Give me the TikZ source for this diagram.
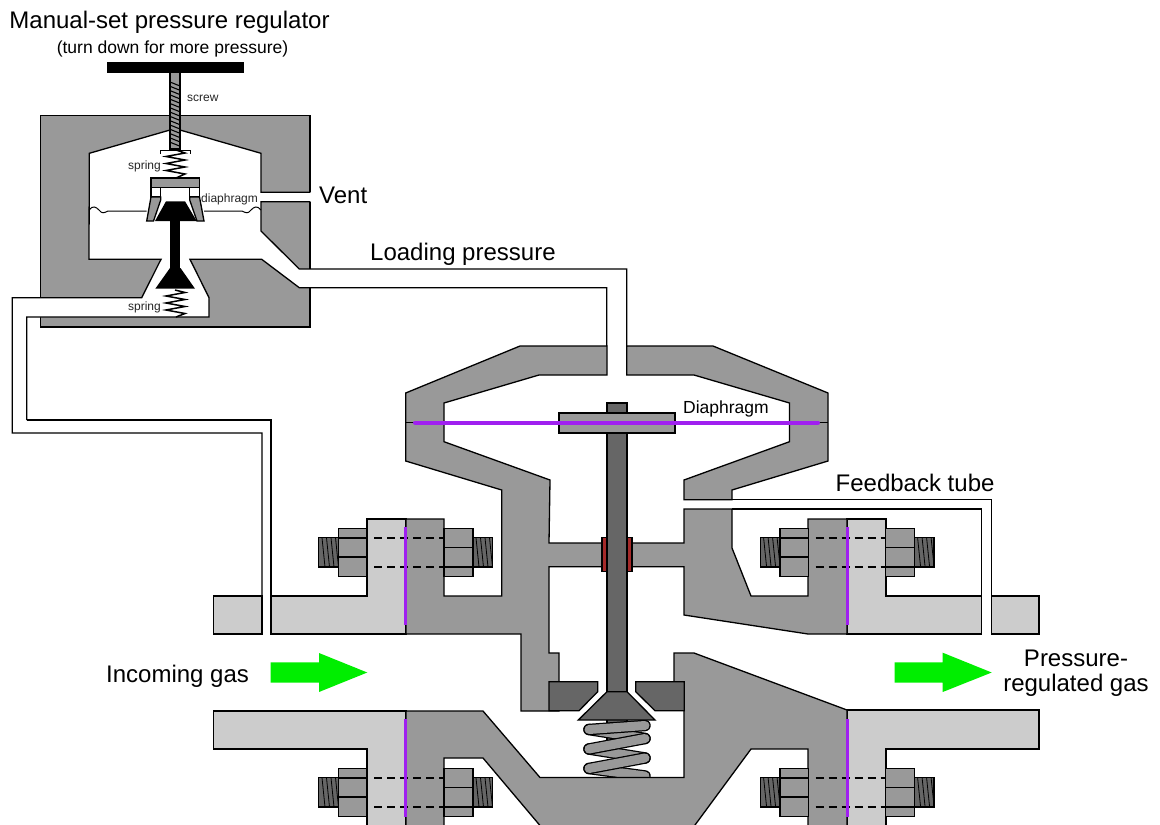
\documentclass[tikz,border=0pt]{standalone}
\usepackage{fontspec}
\setmainfont{Liberation Sans}
\usepackage{xcolor}
\definecolor{bodygray}{HTML}{999999}
\definecolor{flangegray}{HTML}{CCCCCC}
\definecolor{stemgray}{HTML}{666666}
\definecolor{packred}{HTML}{A52A2A}
\definecolor{gasgreen}{HTML}{00EE00}
\definecolor{diaphpurple}{HTML}{A020F0}

\begin{document}
\begin{tikzpicture}[
    x=1pt,y=-1pt,
    part/.style={draw=black,line width=1.3pt,line join=miter},
    body/.style={part,fill=bodygray},
    flange/.style={part,fill=flangegray},
    stem/.style={part,fill=stemgray},
    tube/.style={draw=black,line width=1.3pt},
    thin part/.style={draw=black,line width=1pt},
    zigzag/.style={draw=black,line width=1.5pt},
    hatch/.style={draw=black,line width=0.8pt},
    membrane/.style={draw=diaphpurple,line width=3pt},
    gasflow/.style={fill=gasgreen,draw=none},
    coilout/.style={draw=black,line width=11.5pt,line cap=round},
    coilin/.style={draw=bodygray,line width=9pt,line cap=round},
    biglabel/.style={font=\fontsize{24}{25}\selectfont,inner sep=0pt},
    midlabel/.style={font=\fontsize{17.5}{20}\selectfont,inner sep=0pt},
    smalllabel/.style={font=\fontsize{12}{14}\selectfont,inner sep=0pt,text=black!85}
]
\useasboundingbox (0,0) rectangle (1160,825);
\clip (0,0) rectangle (1160,825);

\draw[body] (40.5,115.5) rectangle (310,327);
\fill[white] (320,192.3) -- (261,192.3) -- (261,153.3) -- (180,130) -- (170,130) -- (89.3,153.3) -- (89,259.3) -- (161,259.3) -- (141.7,297.7) -- (12.3,297.7) -- (12.3,317) -- (209,317) -- (209,297.7) -- (190,259.3) -- (261.7,259.3) -- (299.3,287.7) -- (320,287.7) -- (320,269) -- (299.3,269) -- (261,231) -- (261,201.7) -- (320,201.7) -- cycle;
\draw[tube] (310,192.3) -- (261,192.3) -- (261,153.3) -- (180,130) -- (170,130) -- (89.3,153.3) -- (89,259.3) -- (161,259.3) -- (141.7,297.7) -- (12.3,297.7) -- (12.3,433) -- (262,433) -- (262,596);
\draw[tube] (310,201.7) -- (261,201.7) -- (261,231) -- (299.3,269) -- (626.7,269) -- (626.7,346);
\draw[tube] (26.7,420) -- (26.7,317) -- (209,317) -- (209,297.7) -- (190,259.3) -- (261.7,259.3) -- (299.3,287.7) -- (606.7,287.7) -- (606.7,346);
\draw[tube] (26.7,420) -- (271,420) -- (271,596);

\draw[part,fill=black] (107.3,62.3) rectangle (243,72.7);
\draw[part,fill=bodygray] (170,72.7) rectangle (180,149);
\foreach \sy in {82,86.3,...,145} {
    \draw[hatch,line width=1.1pt] (170,\sy) -- (180,\sy+4);
}
\draw[thin part] (160.7,154) -- (160.7,150) -- (190.3,150) -- (190.3,154);
\draw[zigzag] (176,150) -- (185,153) -- (166,156.5) -- (185,160) -- (166,163.5) -- (185,167) -- (166,170.5) -- (185,174) -- (176,178);
\draw[zigzag] (175,290) -- (185,292.5) -- (166,296) -- (185,299.5) -- (166,303) -- (185,306.5) -- (166,310) -- (185,313.5) -- (176,317);

\draw[thin part] (89,210) .. controls (93,205) and (96,207) .. (99,210) .. controls (102,214) and (104,213) .. (108,211) -- (146.7,211);
\draw[thin part] (204,211) -- (242,211) .. controls (246,213) and (248,214) .. (251,210) .. controls (254,207) and (257,205) .. (261,210);
\draw[part,fill=white] (151,187.3) rectangle (160.7,197);
\draw[part,fill=white] (189.7,187.3) rectangle (199.5,197);
\draw[part,fill=bodygray] (151,197) -- (160.7,197) -- (160.7,200) -- (153.5,221) -- (146.7,221) -- cycle;
\draw[part,fill=bodygray] (199.5,197) -- (189.7,197) -- (189.7,200) -- (197,221) -- (204,221) -- cycle;
\draw[part,fill=bodygray] (151,178) rectangle (199.7,187.5);
\fill[black] (166,201.3) -- (185,201.3) -- (196.7,221) -- (155,221) -- cycle;
\fill[black] (170,221) rectangle (180.3,268);
\fill[black] (170,268) -- (180.5,268) -- (195,288.7) -- (155.3,288.7) -- cycle;

\draw[stem] (607,403) rectangle (627,745);
\foreach \ax/\ay/\bx/\by in {589/729.5/645/738.5,589/749/645/758,589/768.5/645/776} {
    \draw[coilout] (\ax,\ay) -- (\bx,\by);
    \draw[coilin] (\ax,\ay) -- (\bx,\by);
}
\foreach \ax/\ay/\bx/\by in {589/729.5/645/725.5,589/749/645/738.5,589/768.5/645/758} {
    \draw[coilout] (\ax,\ay) -- (\bx,\by);
    \draw[coilin] (\ax,\ay) -- (\bx,\by);
}

\draw[flange] (213.7,596) rectangle (262,634);
\draw[flange] (271,596) -- (367,596) -- (367,519) -- (406,519) -- (406,634) -- (271,634) -- cycle;
\draw[flange] (847,519) -- (886,519) -- (886,596) -- (981.7,596) -- (981.7,634) -- (847,634) -- cycle;
\draw[flange] (991.7,596) rectangle (1039,634);
\draw[flange] (213.7,711) -- (406,711) -- (406,835) -- (367,835) -- (367,749) -- (213.7,749) -- cycle;
\draw[flange] (847,710) -- (1039,710) -- (1039,749) -- (886,749) -- (886,835) -- (847,835) -- cycle;

\draw[body] (607,346) -- (520,346) -- (405.7,393) -- (405.7,461) -- (501.7,490) -- (501.7,596) -- (444,596) -- (444,519) -- (406,519) -- (406,634) -- (521,634) -- (521,711) -- (559,711) -- (559,653) -- (549,653) -- (549,566.7) -- (684,566.7) -- (684,615) -- (808,634) -- (847,634) -- (847,519) -- (808,519) -- (808,596) -- (751,596) -- (732,548) -- (732,509) -- (684,509) -- (684,543) -- (549,543) -- (550,480) -- (444,441.7) -- (444,403) -- (539,375) -- (607,375) -- cycle;
\draw[body] (626.7,346) -- (713,346) -- (828,393) -- (828,461) -- (732,490) -- (732,499.7) -- (684,499.7) -- (684,480) -- (789.5,441.7) -- (789.5,403) -- (694,375) -- (626.7,375) -- cycle;
\draw[body] (406,711) -- (483,711) -- (540,777.5) -- (684,777.5) -- (684,682) -- (674,682) -- (674,653) -- (694,653) -- (847,710) -- (847,835) -- (808,835) -- (808,749) -- (751,749) -- (695,825) -- (687,835) -- (548,835) -- (483,758) -- (444,758) -- (444,835) -- (406,835) -- cycle;
\draw[tube] (732,499.7) -- (991.7,499.7) -- (991.7,596);
\draw[tube] (732,509) -- (981.7,509) -- (981.7,596);
\draw[tube] (405.7,422.7) -- (444,422.7);
\draw[tube] (789.5,422.7) -- (828,422.7);

\draw[stem] (549,681.7) -- (597.7,681.7) -- (597.7,691.7) -- (579,710.7) -- (549,710.7) -- cycle;
\draw[stem] (635.7,681.7) -- (684.3,681.7) -- (684.3,710.7) -- (655,710.7) -- (635.7,691.7) -- cycle;
\draw[part,fill=packred] (602,537.7) rectangle (607,571.7);
\draw[part,fill=packred] (627,537.7) rectangle (632,571.7);
\draw[stem] (607,403) rectangle (627,691.7);
\draw[stem] (607,691.7) -- (627,691.7) -- (655,720) -- (578.3,720) -- cycle;
\draw[body] (559,413) rectangle (675,433);

\foreach \bx/\by in {0/0,0/240,441.6/0,441.6/240} {
    \begin{scope}[shift={(\bx,\by)}]
        \draw[stem] (318.7,537.7) rectangle (338.3,567);
        \draw[stem] (473,537.7) rectangle (492.3,567);
        \foreach \tx in {322,326.5,331,335.5} {
            \draw[hatch] (\tx,537.7) -- (\tx+3,567);
            \draw[hatch] (\tx+154,537.7) -- (\tx+157,567);
        }
        \draw[body] (338.3,528.3) rectangle (367,576.7);
        \draw[body] (444,528.3) rectangle (473,576.7);
        \draw[tube] (338.3,538) -- (367,538);
        \draw[tube] (338.3,557) -- (367,557);
        \draw[tube] (444,547.7) -- (473,547.7);
        \draw[tube] (444,567) -- (473,567);
        \draw[tube,line width=1.1pt,dash pattern=on 8pt off 5pt] (374,538) -- (444,538);
        \draw[tube,line width=1.1pt,dash pattern=on 8pt off 5pt] (374,567) -- (444,567);
    \end{scope}
}

\foreach \fx in {405.5,847} {
    \draw[membrane] (\fx,527) -- (\fx,625);
    \draw[membrane] (\fx,719) -- (\fx,817);
}
\draw[membrane,line width=4pt,line cap=round] (415,422.7) -- (818,422.7);

\fill[gasflow] (270.7,662.3) -- (319,662.3) -- (319,653) -- (367.3,672.5) -- (319,692) -- (319,682.5) -- (270.7,682.5) -- cycle;
\fill[gasflow] (894.7,662.3) -- (942.7,662.3) -- (942.7,652.7) -- (991.7,672.5) -- (942.7,692) -- (942.7,682.5) -- (894.7,682.5) -- cycle;

\node[biglabel,anchor=center] (regtitle) at (169.5,22) {Manual-set pressure regulator};
\node[midlabel,anchor=center] (regnote) at (172.5,49) {(turn down for more pressure)};
\node[smalllabel,anchor=west] (screwlabel) at (187,98) {screw};
\node[smalllabel,anchor=east] (springtop) at (161,166.5) {spring};
\node[smalllabel,anchor=east] (springlow) at (161,307) {spring};
\node[smalllabel,anchor=west] (diaphlabel) at (201,199) {diaphragm};
\node[biglabel,anchor=west] (ventlabel) at (319,195) {Vent};
\node[biglabel,anchor=west] (loadlabel) at (370,254) {Loading pressure};
\node[midlabel,anchor=west] (maindiaph) at (683,409) {Diaphragm};
\node[biglabel,anchor=west] (feedlabel) at (835.5,483) {Feedback tube};
\node[biglabel,anchor=west] (inlabel) at (106,676) {Incoming gas};
\node[biglabel,anchor=center,align=center] (outlabel) at (1076,673.5) {Pressure-\\regulated gas};
\end{tikzpicture}
\end{document}
